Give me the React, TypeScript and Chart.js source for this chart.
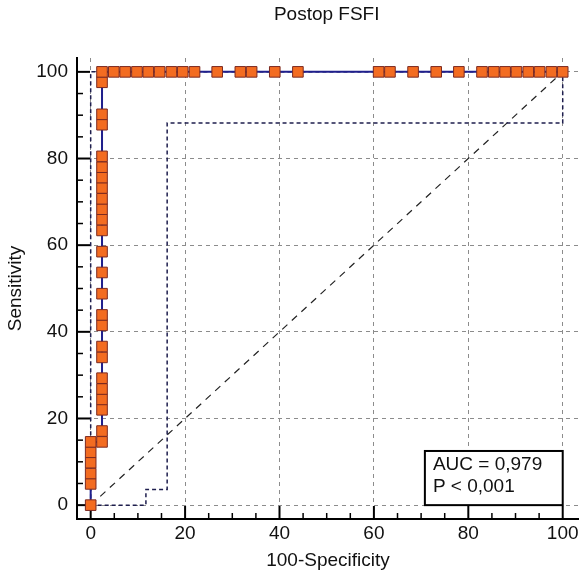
import React, { useEffect, useRef } from "react";
import { Chart, registerables } from "chart.js";
Chart.register(...registerables);

const TITLE = "Postop FSFI";
const X_TITLE = "100-Specificity";
const Y_TITLE = "Sensitivity";
const AUC_TEXT = "AUC = 0,979";
const P_TEXT = "P < 0,001";

const MAJOR_TICKS = [0, 20, 40, 60, 80, 100];
const MINOR_TICKS = [5, 10, 15, 25, 30, 35, 45, 50, 55, 65, 70, 75, 85, 90, 95];

// ROC curve points (100-Specificity, Sensitivity)
const ROC_FPR = [
  0, 0, 0, 0, 0, 0,
  2.4, 2.4, 2.4, 2.4, 2.4, 2.4, 2.4, 2.4, 2.4, 2.4, 2.4, 2.4, 2.4,
  2.4, 2.4, 2.4, 2.4, 2.4, 2.4, 2.4, 2.4, 2.4, 2.4, 2.4, 2.4,
  4.9, 7.3, 9.8, 12.2, 14.6, 17.1, 19.5, 22.0, 26.8, 31.7, 34.1, 39.0, 43.9,
  61.0, 63.4, 68.3, 73.2, 78.0, 82.9, 85.4, 87.8, 90.2, 92.7, 95.1, 97.6, 100,
];
const ROC_TPR = [
  0, 4.9, 7.3, 9.8, 12.2, 14.6,
  14.6, 17.1, 22.0, 24.4, 26.8, 29.3, 34.1, 36.6, 41.5, 43.9, 48.8, 53.7, 58.5,
  63.4, 65.9, 68.3, 70.7, 73.2, 75.6, 78.0, 80.5, 87.8, 90.2, 97.6, 100,
  100, 100, 100, 100, 100, 100, 100, 100, 100, 100, 100, 100, 100,
  100, 100, 100, 100, 100, 100, 100, 100, 100, 100, 100, 100, 100,
];

// 95% confidence bounds
const LOWER_X = [0, 11.7, 11.7, 16.2, 16.2, 100, 100];
const LOWER_Y = [0, 0, 3.6, 3.6, 88.2, 88.2, 100];
const UPPER_X = [0, 0, 100];
const UPPER_Y = [0, 100, 100];

// Reference diagonal
const DIAG_X = [0, 100];
const DIAG_Y = [0, 100];

// AUC box extent in data units
const BOX_X = [70.8, 100];
const BOX_Y = [0, 12.5];

const FONT = "'Liberation Sans', Arial, sans-serif";

const pts = (xs: number[], ys: number[]) => xs.map((x, i) => ({ x, y: ys[i] }));

const decor = {
  id: "decor",
  beforeDatasetsDraw(chart: any) {
    const { ctx, scales } = chart;
    const xs = scales.x;
    const ys = scales.y;
    const left = chart.chartArea.left;
    const bottom = chart.chartArea.bottom;
    ctx.save();
    ctx.strokeStyle = "#000";
    ctx.lineWidth = 2;
    MAJOR_TICKS.forEach((v) => {
      const py = ys.getPixelForValue(v);
      ctx.beginPath();
      ctx.moveTo(left, py);
      ctx.lineTo(left + 13, py);
      ctx.stroke();
      const px = xs.getPixelForValue(v);
      ctx.beginPath();
      ctx.moveTo(px, bottom);
      ctx.lineTo(px, bottom - 13);
      ctx.stroke();
    });
    ctx.lineWidth = 1.5;
    MINOR_TICKS.forEach((v) => {
      const py = ys.getPixelForValue(v);
      ctx.beginPath();
      ctx.moveTo(left, py);
      ctx.lineTo(left + 6, py);
      ctx.stroke();
      const px = xs.getPixelForValue(v);
      ctx.beginPath();
      ctx.moveTo(px, bottom);
      ctx.lineTo(px, bottom - 6);
      ctx.stroke();
    });
    ctx.restore();
  },
  afterDatasetsDraw(chart: any) {
    const { ctx, scales } = chart;
    const xs = scales.x;
    const ys = scales.y;
    const x1 = xs.getPixelForValue(BOX_X[0]);
    const x2 = xs.getPixelForValue(BOX_X[1]);
    const y1 = ys.getPixelForValue(BOX_Y[1]);
    const y2 = ys.getPixelForValue(BOX_Y[0]);
    ctx.save();
    ctx.fillStyle = "#fff";
    ctx.fillRect(x1, y1, x2 - x1, y2 - y1);
    ctx.strokeStyle = "#000";
    ctx.lineWidth = 2;
    ctx.strokeRect(x1, y1, x2 - x1, y2 - y1);
    ctx.fillStyle = "#111";
    ctx.font = `19px ${FONT}`;
    ctx.textAlign = "left";
    ctx.textBaseline = "middle";
    ctx.fillText(AUC_TEXT, x1 + 8, y1 + 13.5);
    ctx.fillText(P_TEXT, x1 + 8, y1 + 35.5);
    ctx.textAlign = "center";
    ctx.fillText(TITLE, xs.getPixelForValue(50), 15);
    ctx.restore();
  },
};

export default function App() {
  const ref = useRef<HTMLCanvasElement | null>(null);
  useEffect(() => {
    document.body.style.margin = "0";
    const canvas = ref.current;
    if (!canvas) return;
    Chart.defaults.font.family = FONT;
    const tickFont = { family: FONT, size: 19 };
    const chart = new Chart(canvas, {
      type: "scatter",
      data: {
        datasets: [
          {
            label: "ROC",
            data: pts(ROC_FPR, ROC_TPR),
            showLine: true,
            borderColor: "#1f1f8c",
            borderWidth: 2,
            pointStyle: "rect",
            pointRadius: 7.5,
            pointBackgroundColor: "#f36c21",
            pointBorderColor: "#7c2a22",
            pointBorderWidth: 1,
            tension: 0,
            order: 0,
          },
          {
            label: "Lower",
            data: pts(LOWER_X, LOWER_Y),
            showLine: true,
            borderColor: "#1e1e4e",
            borderWidth: 1.5,
            borderDash: [4, 3],
            pointRadius: 0,
            order: 1,
          },
          {
            label: "Upper",
            data: pts(UPPER_X, UPPER_Y),
            showLine: true,
            borderColor: "#1e1e4e",
            borderWidth: 1.5,
            borderDash: [4, 3],
            pointRadius: 0,
            order: 2,
          },
          {
            label: "Diagonal",
            data: pts(DIAG_X, DIAG_Y),
            showLine: true,
            borderColor: "#222",
            borderWidth: 1.2,
            borderDash: [7, 6],
            pointRadius: 0,
            order: 3,
          },
        ],
      },
      options: {
        responsive: false,
        animation: false,
        events: [],
        layout: { autoPadding: false, padding: { top: 58, left: 0, right: 0, bottom: 0 } },
        plugins: {
          legend: { display: false },
          tooltip: { enabled: false },
          title: { display: false },
        },
        scales: {
          x: {
            type: "linear",
            min: -2.9,
            max: 103.45,
            afterFit: (s: any) => {
              s.height = 53;
              s.paddingLeft = 0;
              s.paddingRight = 0;
            },
            afterBuildTicks: (s: any) => {
              s.ticks = MAJOR_TICKS.map((v) => ({ value: v }));
            },
            ticks: { font: tickFont, color: "#111", padding: 3, maxRotation: 0 },
            grid: { color: "#8c8c8c", lineWidth: 1, drawTicks: false },
            border: { display: true, color: "#000", width: 2, dash: [4, 4] },
            title: {
              display: true,
              text: X_TITLE,
              font: tickFont,
              color: "#111",
              padding: { top: 0, bottom: 0 },
            },
          },
          y: {
            type: "linear",
            min: -3.2,
            max: 103.2,
            afterFit: (s: any) => {
              s.width = 77;
              s.paddingTop = 0;
              s.paddingBottom = 0;
            },
            afterBuildTicks: (s: any) => {
              s.ticks = MAJOR_TICKS.map((v) => ({ value: v }));
            },
            ticks: { font: tickFont, color: "#111", padding: 9 },
            grid: { color: "#8c8c8c", lineWidth: 1, drawTicks: false },
            border: { display: true, color: "#000", width: 2, dash: [4, 4] },
            title: {
              display: true,
              text: Y_TITLE,
              font: tickFont,
              color: "#111",
              padding: { top: 4, bottom: 0 },
            },
          },
        },
      },
      plugins: [decor],
    } as any);
    return () => chart.destroy();
  }, []);
  return <canvas ref={ref} width={579} height={572} style={{ display: "block" }} />;
}
